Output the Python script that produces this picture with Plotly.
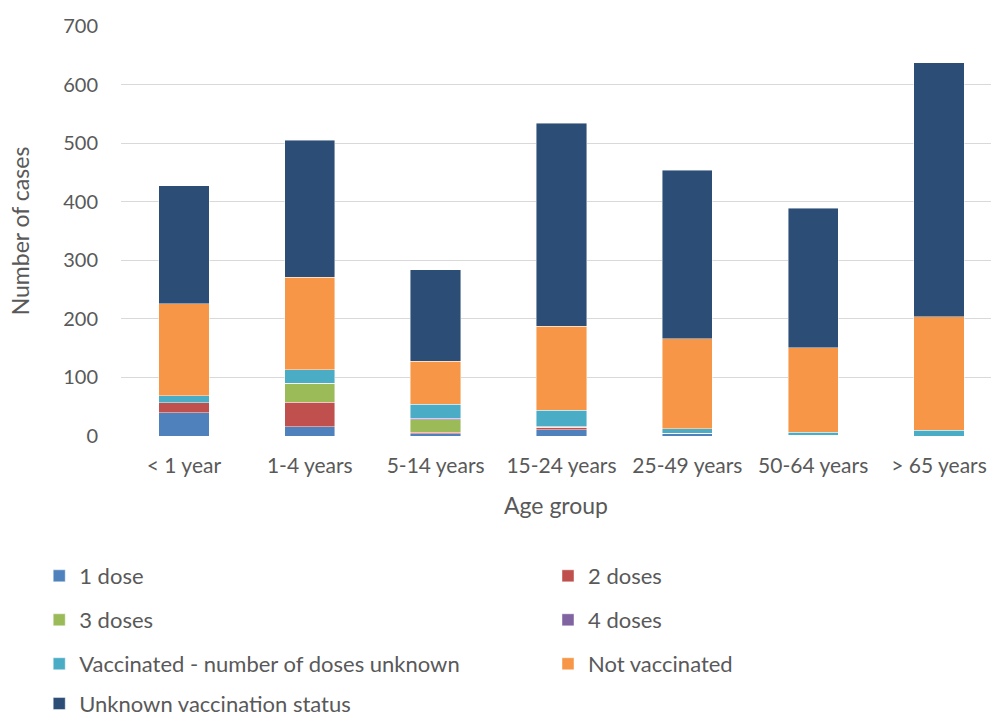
import plotly.graph_objects as go

age_groups = ["< 1 year", "1-4 years", "5-14 years", "15-24 years",
              "25-49 years", "50-64 years", "> 65 years"]

one_dose = [40, 16, 4, 11, 5, 1, 0]
two_doses = [17, 42, 2, 3, 0, 0, 0]
three_doses = [0, 32, 22, 1, 0, 0, 0]
four_doses = [0, 0, 2, 2, 0, 0, 0]
vacc_doses_unknown = [12, 23, 24, 27, 7, 5, 10]
not_vaccinated = [157, 158, 74, 143, 154, 145, 194]
unknown_status = [201, 234, 156, 347, 288, 238, 433]

y_ticks = [0, 100, 200, 300, 400, 500, 600, 700]

series_names = ["1 dose", "2 doses", "3 doses", "4 doses",
                "Vaccinated - number of doses unknown", "Not vaccinated",
                "Unknown vaccination status"]
series_values = [one_dose, two_doses, three_doses, four_doses,
                 vacc_doses_unknown, not_vaccinated, unknown_status]
series_colors = ["#4F81BD", "#C0504D", "#9BBB59", "#8064A2",
                 "#4BACC6", "#F79646", "#2C4D75"]

TEXT = "#595959"
FONT = "Lato"

# legend laid out in two columns, one legend box per entry
col_x = [-0.094, 0.4908]
row_y = [-0.3415, -0.4488, -0.556, -0.653]

fig = go.Figure()
legends = {}
for i, (name, vals, color) in enumerate(zip(series_names, series_values, series_colors)):
    key = "legend" if i == 0 else f"legend{i + 1}"
    fig.add_trace(go.Bar(
        x=age_groups, y=vals, name=name, legend=key,
        marker=dict(color=color, line=dict(color="rgba(255,255,255,0.55)", width=0.8)),
        width=0.40,
    ))
    legends[key] = dict(
        orientation="h", x=col_x[i % 2], y=row_y[i // 2],
        xanchor="left", yanchor="middle",
        font=dict(family=FONT, size=22, color=TEXT),
        bgcolor="rgba(0,0,0,0)", itemclick=False, itemdoubleclick=False,
    )

fig.update_layout(
    width=991, height=716,
    margin=dict(l=121, r=0, t=26, b=280, autoexpand=False),
    barmode="stack",
    plot_bgcolor="white", paper_bgcolor="white",
    font=dict(family=FONT, color=TEXT, size=20),
    xaxis=dict(
        range=[-0.5, 6.413], showgrid=False, showline=False, ticks="",
        tickfont=dict(size=21, color=TEXT), ticklabelstandoff=15,
        title=dict(text="Age group", font=dict(size=23, color=TEXT), standoff=21),
    ),
    yaxis=dict(
        range=[0, 700], tickvals=y_ticks, showgrid=True, gridcolor="#D9D9D9",
        gridwidth=1, zeroline=False, showline=False, ticks="",
        tickfont=dict(size=20, color=TEXT), ticklabelstandoff=22,
        title=dict(text="Number of cases", font=dict(size=23, color=TEXT), standoff=27),
    ),
    showlegend=True,
    **legends,
)

fig.write_html("out.html")
